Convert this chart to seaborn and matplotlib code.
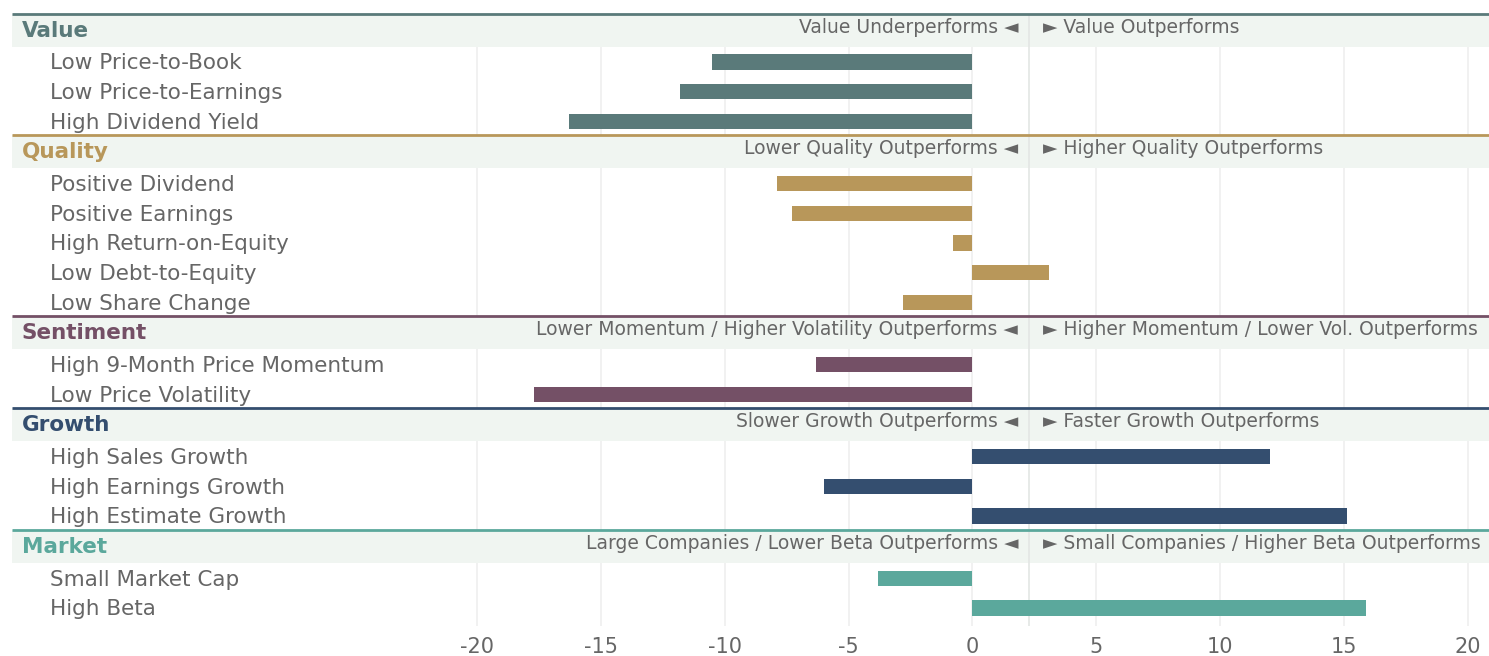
import matplotlib
matplotlib.use("Agg")
import pandas as pd
import matplotlib.pyplot as plt
import seaborn as sns

# factor groups, top to bottom
groups = ["Value", "Quality", "Sentiment", "Growth", "Market"]
group_colors = ["#5a7a7a", "#b8975a", "#745066", "#344e6f", "#5ba89c"]
left_notes = [
    "Value Underperforms",
    "Lower Quality Outperforms",
    "Lower Momentum / Higher Volatility Outperforms",
    "Slower Growth Outperforms",
    "Large Companies / Lower Beta Outperforms",
]
right_notes = [
    "Value Outperforms",
    "Higher Quality Outperforms",
    "Higher Momentum / Lower Vol. Outperforms",
    "Faster Growth Outperforms",
    "Small Companies / Higher Beta Outperforms",
]

value_labels = ["Low Price-to-Book", "Low Price-to-Earnings", "High Dividend Yield"]
value_scores = [-10.5, -11.8, -16.3]

quality_labels = ["Positive Dividend", "Positive Earnings", "High Return-on-Equity",
                  "Low Debt-to-Equity", "Low Share Change"]
quality_scores = [-7.9, -7.3, -0.8, 3.1, -2.8]

sentiment_labels = ["High 9-Month Price Momentum", "Low Price Volatility"]
sentiment_scores = [-6.3, -17.7]

growth_labels = ["High Sales Growth", "High Earnings Growth", "High Estimate Growth"]
growth_scores = [12.0, -6.0, 15.1]

market_labels = ["Small Market Cap", "High Beta"]
market_scores = [-3.8, 15.9]

xticks = [-20, -15, -10, -5, 0, 5, 10, 15, 20]

group_labels = [value_labels, quality_labels, sentiment_labels, growth_labels, market_labels]
group_scores = [value_scores, quality_scores, sentiment_scores, growth_scores, market_scores]

# layout in row units
GROUP_GAP = 2.1
BAND_TOP = 1.63
BAND_H = 1.11
DIVIDER = 2.3
X_LEFT, X_RIGHT = -39.25, 20.85
BAND_X0 = -38.77

rows = []
firsts = []
pos = 0.0
for g, labs, vals in zip(groups, group_labels, group_scores):
    firsts.append(pos)
    for i, (lab, v) in enumerate(zip(labs, vals)):
        rows.append({"group": g, "factor": lab, "score": v, "pos": round(pos + i, 3)})
    pos += len(labs) - 1 + GROUP_GAP
df = pd.DataFrame(rows)

sns.set_style("white")
plt.rcParams["font.family"] = ["DejaVu Sans"]
plt.rcParams["axes.unicode_minus"] = False

fig = plt.figure(figsize=(14.89, 6.56), dpi=100)
ax = fig.add_axes([0, 1 - 626 / 656, 1, 626 / 656])

sns.barplot(data=df, x="score", y="pos", hue="group", orient="h", native_scale=True,
            palette=dict(zip(groups, group_colors)), width=0.52, dodge=False,
            errorbar=None, saturation=1, legend=False, ax=ax)
for p in ax.patches:
    p.set_zorder(4)
    p.set_linewidth(0)

ax.set_xlim(X_LEFT, X_RIGHT)
ax.set_ylim(19.01, -2.09)
for s in ax.spines.values():
    s.set_visible(False)
ax.set_yticks([])
ax.set_ylabel("")
ax.set_xlabel("")
ax.set_xticks(xticks)
ax.set_xticklabels([str(t) for t in xticks])
ax.tick_params(axis="x", length=0, pad=8, labelsize=15, labelcolor="#666666")

top = firsts[0] - BAND_TOP
ax.vlines(xticks, top, 19.01, color="#efefef", lw=1.2, zorder=1)

for g, c, ln, rn, f, labs in zip(groups, group_colors, left_notes, right_notes, firsts, group_labels):
    bt = f - BAND_TOP
    ax.fill_between([BAND_X0, X_RIGHT], bt, bt + BAND_H, color="#f0f5f1", lw=0, zorder=2)
    ax.hlines(bt, BAND_X0, X_RIGHT, color=c, lw=2, zorder=5)
    mid = bt + BAND_H / 2
    ax.text(-38.37, mid + 0.02, g, color=c, fontsize=15.5, fontweight="bold", va="center", zorder=6)
    ax.text(DIVIDER - 0.46, mid - 0.1, ln + " \u25c4", color="#666666", fontsize=13.5,
            ha="right", va="center", zorder=6)
    ax.text(DIVIDER + 0.55, mid - 0.1, "\u25ba " + rn, color="#666666", fontsize=13.5,
            ha="left", va="center", zorder=6)
    for i, lab in enumerate(labs):
        ax.text(-37.24, f + i + 0.05, lab, color="#666666", fontsize=15.5, va="center", zorder=6)

ax.vlines([DIVIDER], top, 19.01, color="#e3e6e4", lw=1.2, zorder=3)

fig.savefig("out.png", dpi=100)
